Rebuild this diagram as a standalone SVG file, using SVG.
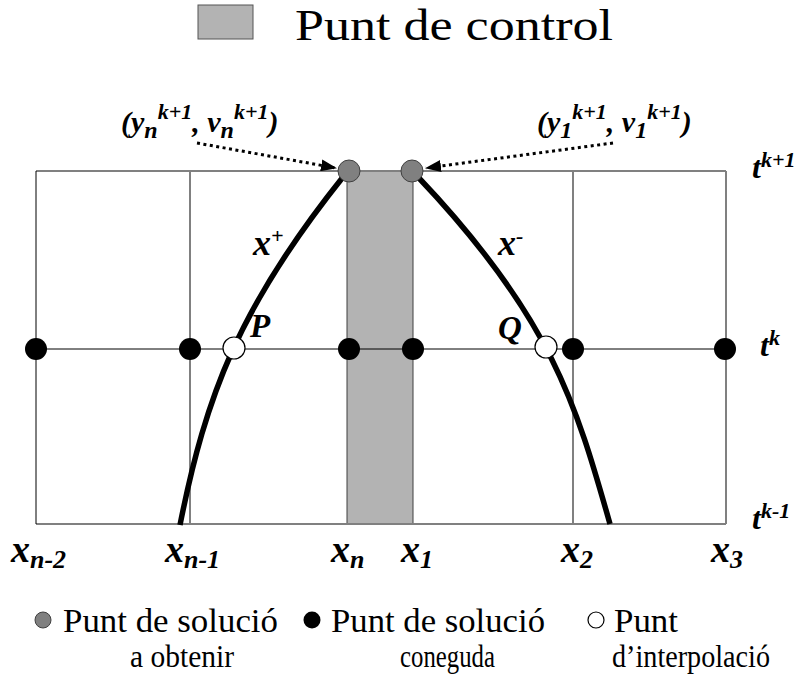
<svg xmlns="http://www.w3.org/2000/svg" width="797" height="677" viewBox="0 0 797 677">
<style>
.t{font-family:"Liberation Serif","Times New Roman",Times,"DejaVu Serif",serif;fill:#000}
.bi{font-family:"Liberation Serif","Times New Roman",Times,"DejaVu Serif",serif;font-weight:bold;font-style:italic;fill:#000}
.gl{stroke:#808080;stroke-width:2;fill:none}
.bl{stroke:#000;stroke-width:1;fill:none}
.curve{stroke:#000;stroke-width:5.5;fill:none;stroke-linecap:butt}
.dot{stroke:#000;stroke-width:3;stroke-dasharray:3 3.5;fill:none}
.gp{fill:#808080;stroke:#404040;stroke-width:1}
.kp{fill:#000}
.wp{fill:#fff;stroke:#000;stroke-width:1.2}
</style>
<defs>
<marker id="ah" markerWidth="16" markerHeight="12" refX="15" refY="6" orient="auto" markerUnits="userSpaceOnUse">
<path d="M0,0 L16,6 L0,12 Z" fill="#000"/>
</marker>
</defs>
<g id="legend-control">
<rect x="198" y="5" width="55" height="34" fill="#b3b3b3" stroke="#555" stroke-width="1"/>
<text class="t" x="295" y="40" font-size="44" textLength="318" lengthAdjust="spacingAndGlyphs">Punt de control</text>
</g>
<g id="grid">
<rect id="control-cell" x="347" y="171" width="66" height="353" fill="#b3b3b3" stroke="#404040" stroke-width="1"/>
<line class="gl" x1="36" y1="171" x2="726" y2="171"/>
<line class="gl" x1="36" y1="524" x2="726" y2="524"/>
<line class="bl" x1="36" y1="171" x2="36" y2="524"/>
<line class="gl" x1="190" y1="171" x2="190" y2="524" stroke-width="1.5"/>
<line class="gl" x1="573" y1="171" x2="573" y2="524" stroke-width="1.5"/>
<line class="gl" x1="726" y1="171" x2="726" y2="524" stroke-width="1.5"/>
<line class="bl" x1="36" y1="349" x2="726" y2="349"/>
</g>
<g id="connectors">
<path class="curve" d="M343,177 C239,307 206,395 180,525"/>
<path class="curve" d="M418,177 C551,317 576,404 610,524"/>
<line class="dot" x1="197" y1="143" x2="336" y2="168" marker-end="url(#ah)"/>
<line class="dot" x1="613" y1="143" x2="426" y2="168" marker-end="url(#ah)"/>
</g>
<g id="sol-n"><circle class="gp" cx="349" cy="171" r="11"/></g>
<g id="sol-1"><circle class="gp" cx="412" cy="171" r="11"/></g>
<g id="known-points">
<circle class="kp" cx="36" cy="349" r="11"/>
<circle class="kp" cx="190" cy="349" r="11"/>
<circle class="kp" cx="349" cy="349" r="11"/>
<circle class="kp" cx="413" cy="349" r="11"/>
<circle class="kp" cx="573" cy="349" r="11"/>
<circle class="kp" cx="725" cy="349" r="11"/>
</g>
<g id="P"><circle class="wp" cx="234" cy="348" r="11"/><text class="bi" x="250" y="337" font-size="33">P</text></g>
<g id="Q"><circle class="wp" cx="546" cy="347" r="11"/><text class="bi" x="498" y="339" font-size="33">Q</text></g>
<g id="labels">
<text class="bi" x="121" y="132" font-size="30">(y<tspan font-size="24" dy="6">n</tspan><tspan font-size="22" dy="-19">k+1</tspan><tspan dy="13">, v</tspan><tspan font-size="24" dy="6">n</tspan><tspan font-size="22" dy="-19">k+1</tspan><tspan dy="13">)</tspan></text>
<text class="bi" x="537" y="132" font-size="30">(y<tspan font-size="24" dy="6">1</tspan><tspan font-size="22" dy="-19">k+1</tspan><tspan dy="13">, v</tspan><tspan font-size="24" dy="6">1</tspan><tspan font-size="22" dy="-19">k+1</tspan><tspan dy="13">)</tspan></text>
<text class="bi" x="253" y="255" font-size="36">x<tspan font-size="22" dy="-12">+</tspan></text>
<text class="bi" x="498" y="255" font-size="36">x<tspan font-size="22" dy="-12">-</tspan></text>
<text class="bi" x="752" y="178" font-size="32">t<tspan font-size="22" dy="-11">k+1</tspan></text>
<text class="bi" x="760" y="356" font-size="32">t<tspan font-size="22" dy="-11">k</tspan></text>
<text class="bi" x="752" y="529" font-size="32">t<tspan font-size="22" dy="-11">k-1</tspan></text>
<text class="bi" x="11" y="562" font-size="38">x<tspan font-size="26" dy="6">n-2</tspan></text>
<text class="bi" x="165" y="562" font-size="38">x<tspan font-size="26" dy="6">n-1</tspan></text>
<text class="bi" x="331" y="562" font-size="38">x<tspan font-size="26" dy="6">n</tspan></text>
<text class="bi" x="401" y="562" font-size="38">x<tspan font-size="26" dy="6">1</tspan></text>
<text class="bi" x="561" y="562" font-size="38">x<tspan font-size="26" dy="6">2</tspan></text>
<text class="bi" x="711" y="562" font-size="38">x<tspan font-size="26" dy="6">3</tspan></text>
</g>
<g id="legend-points">
<circle class="gp" cx="43" cy="620" r="8"/>
<text class="t" x="63" y="632" font-size="34" textLength="215" lengthAdjust="spacingAndGlyphs">Punt de solució</text>
<text class="t" x="130" y="667" font-size="32" textLength="104" lengthAdjust="spacingAndGlyphs">a obtenir</text>
<circle class="kp" cx="312" cy="620" r="8.5"/>
<text class="t" x="331" y="632" font-size="34" textLength="214" lengthAdjust="spacingAndGlyphs">Punt de solució</text>
<text class="t" x="400" y="667" font-size="32" textLength="95" lengthAdjust="spacingAndGlyphs">coneguda</text>
<circle class="wp" cx="596" cy="620" r="8" stroke-width="1"/>
<text class="t" x="614" y="632" font-size="34" textLength="64" lengthAdjust="spacingAndGlyphs">Punt</text>
<text class="t" x="612" y="667" font-size="32" textLength="158" lengthAdjust="spacingAndGlyphs">d’interpolació</text>
</g>
</svg>
